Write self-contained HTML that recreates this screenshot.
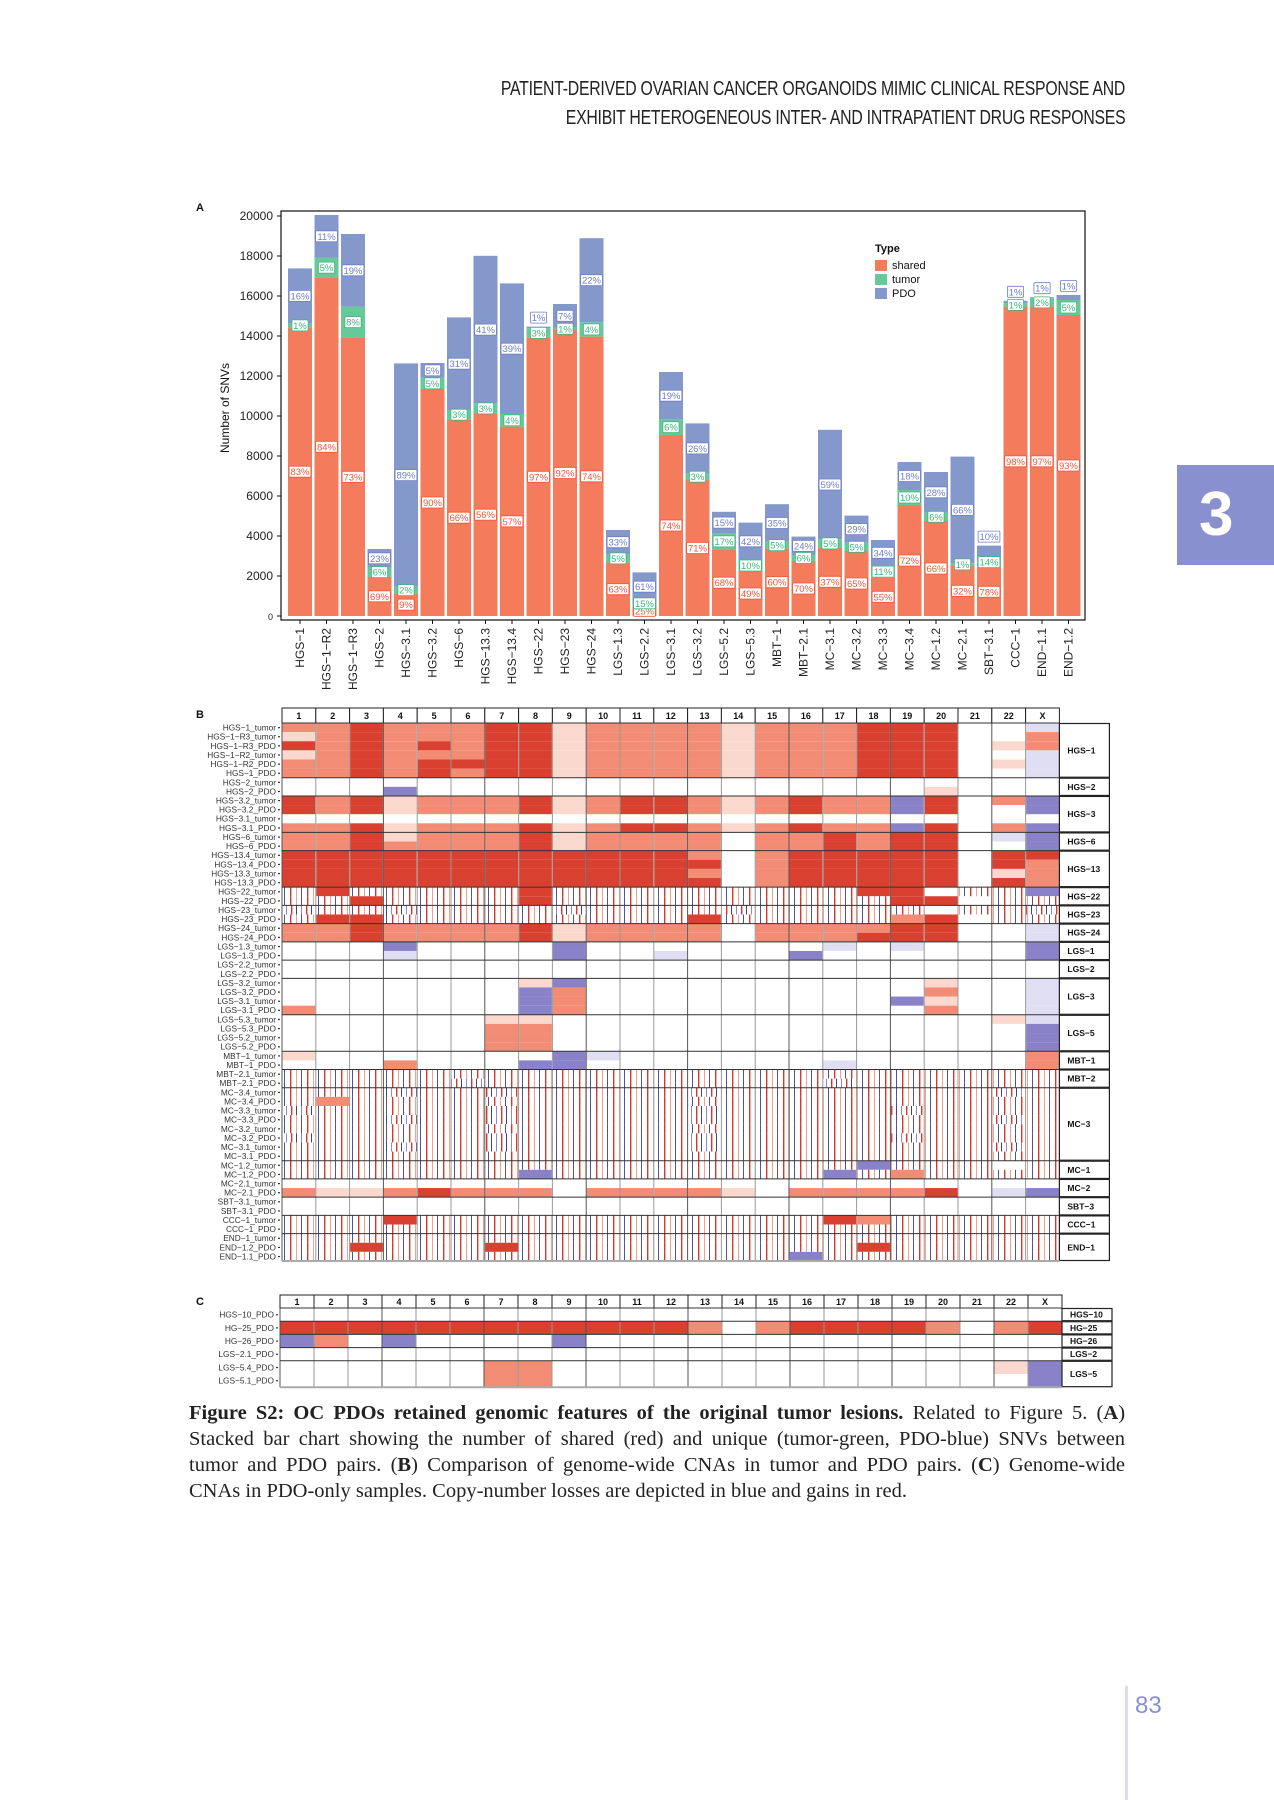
<!DOCTYPE html>
<html><head><meta charset="utf-8">
<style>
html,body{margin:0;padding:0;background:#fff;}
#page{position:relative;width:1274px;height:1800px;overflow:hidden;background:#fff;font-family:"Liberation Sans",sans-serif;}
.hdr{position:absolute;right:149px;font-family:"Liberation Sans Narrow","Liberation Sans",sans-serif;font-size:20px;color:#222;letter-spacing:-0.3px;text-align:right;white-space:nowrap;transform:scaleX(0.79);transform-origin:right center;}
.cap{position:absolute;left:189px;width:936px;font-family:"Liberation Serif",serif;font-size:20.5px;color:#222;line-height:26px;}
.cap div{text-align:justify;text-align-last:justify;white-space:nowrap;}
.cap div.last{text-align-last:left;}
</style></head>
<body>
<div id="page">
<div class="hdr" style="top:78px">PATIENT-DERIVED OVARIAN CANCER ORGANOIDS MIMIC CLINICAL RESPONSE AND</div>
<div class="hdr" style="top:107px">EXHIBIT HETEROGENEOUS INTER- AND INTRAPATIENT DRUG RESPONSES</div>
<div style="position:absolute;left:1177px;top:465px;width:97px;height:100px;background:#8890cf;color:#fff;font-family:'Liberation Sans Narrow','Liberation Sans',sans-serif;font-weight:bold;font-size:62px;line-height:100px;text-indent:22px;">3</div>
<div style="position:absolute;left:1125px;top:1686px;width:3px;height:114px;background:#dcdcf2;"></div>
<div style="position:absolute;left:1135px;top:1692px;font-family:'Liberation Sans Narrow','Liberation Sans',sans-serif;font-size:24px;color:#8890cf;">83</div>
<svg id="chart" width="1274" height="1800" style="position:absolute;left:0;top:0" xmlns="http://www.w3.org/2000/svg">
<defs>
<pattern id="pS" width="17" height="9" patternUnits="userSpaceOnUse"><rect width="17" height="9" fill="#fff"/><rect x="1" width="1.4" height="9" fill="#d7372a"/><rect x="7" width="1" height="9" fill="#f4a08e"/><rect x="12" width="0.9" height="9" fill="#3a3f8f"/></pattern>
<pattern id="pT" width="15" height="9" patternUnits="userSpaceOnUse"><rect width="15" height="9" fill="#fff"/><rect x="1" width="1" height="9" fill="#8f88cc"/><rect x="6" width="1.4" height="9" fill="#d7372a"/><rect x="11" width="0.9" height="9" fill="#27307e"/></pattern>
</defs>
<g id="panelA"></g>
<g id="panelB"></g>
<g id="panelC"></g>
</svg>
<div class="cap" style="top:1400px">
<div><b>Figure S2: OC PDOs retained genomic features of the original tumor lesions.</b> Related to Figure 5. (<b>A</b>)</div>
<div>Stacked bar chart showing the number of shared (red) and unique (tumor-green, PDO-blue) SNVs between</div>
<div>tumor and PDO pairs. (<b>B</b>) Comparison of genome-wide CNAs in tumor and PDO pairs. (<b>C</b>) Genome-wide</div>
<div class="last">CNAs in PDO-only samples. Copy-number losses are depicted in blue and gains in red.</div>
</div>
</div>
<script>
// ---------- Panel A data ----------
const samples = ["HGS-1","HGS-1-R2","HGS-1-R3","HGS-2","HGS-3.1","HGS-3.2","HGS-6","HGS-13.3","HGS-13.4","HGS-22","HGS-23","HGS-24","LGS-1.3","LGS-2.2","LGS-3.1","LGS-3.2","LGS-5.2","LGS-5.3","MBT-1","MBT-2.1","MC-3.1","MC-3.2","MC-3.3","MC-3.4","MC-1.2","MC-2.1","SBT-3.1","CCC-1","END-1.1","END-1.2"];
const sharedCount = [14430,16920,13920,1970,1130,11350,9830,10130,9470,13920,14300,13970,2680,520,9050,6800,3330,2250,3380,2750,3420,3250,1920,5550,4750,2520,2420,15470,15470,15050];
const tumorCount = [200,1000,1550,450,330,570,470,500,630,470,120,720,400,230,780,330,800,550,330,300,420,420,600,750,420,120,550,170,420,750];
const pdoCount = [2750,2130,3630,930,11170,730,4630,7380,6530,80,1180,4200,1220,1430,2370,2500,1080,1870,1880,920,5470,1350,1280,1400,2030,5330,550,120,50,250];
const sharedPct = [83,84,73,69,9,90,66,56,57,97,92,74,63,25,74,71,68,49,60,70,37,65,55,72,66,32,78,98,97,93];
const tumorPct = [1,5,8,6,2,5,3,3,4,3,1,4,5,15,6,3,17,10,5,6,5,5,11,10,6,1,14,1,2,5];
const pdoPct = [16,11,19,23,89,5,31,41,39,1,7,22,33,61,19,26,15,42,35,24,59,29,34,18,28,66,10,1,1,1];
const yTicks = [0,2000,4000,6000,8000,10000,12000,14000,16000,18000,20000];
const legendItems = ["shared","tumor","PDO"];

// ---------- Panel B data ----------
const chroms = ["1","2","3","4","5","6","7","8","9","10","11","12","13","14","15","16","17","18","19","20","21","22","X"];
const rowNames = ["HGS-1_tumor","HGS-1-R3_tumor","HGS-1-R3_PDO","HGS-1-R2_tumor","HGS-1-R2_PDO","HGS-1_PDO","HGS-2_tumor","HGS-2_PDO","HGS-3.2_tumor","HGS-3.2_PDO","HGS-3.1_tumor","HGS-3.1_PDO","HGS-6_tumor","HGS-6_PDO","HGS-13.4_tumor","HGS-13.4_PDO","HGS-13.3_tumor","HGS-13.3_PDO","HGS-22_tumor","HGS-22_PDO","HGS-23_tumor","HGS-23_PDO","HGS-24_tumor","HGS-24_PDO","LGS-1.3_tumor","LGS-1.3_PDO","LGS-2.2_tumor","LGS-2.2_PDO","LGS-3.2_tumor","LGS-3.2_PDO","LGS-3.1_tumor","LGS-3.1_PDO","LGS-5.3_tumor","LGS-5.3_PDO","LGS-5.2_tumor","LGS-5.2_PDO","MBT-1_tumor","MBT-1_PDO","MBT-2.1_tumor","MBT-2.1_PDO","MC-3.4_tumor","MC-3.4_PDO","MC-3.3_tumor","MC-3.3_PDO","MC-3.2_tumor","MC-3.2_PDO","MC-3.1_tumor","MC-3.1_PDO","MC-1.2_tumor","MC-1.2_PDO","MC-2.1_tumor","MC-2.1_PDO","SBT-3.1_tumor","SBT-3.1_PDO","CCC-1_tumor","CCC-1_PDO","END-1_tumor","END-1.2_PDO","END-1.1_PDO"];
const groupNames = ["HGS-1","HGS-2","HGS-3","HGS-6","HGS-13","HGS-22","HGS-23","HGS-24","LGS-1","LGS-2","LGS-3","LGS-5","MBT-1","MBT-2","MC-3","MC-1","MC-2","SBT-3","CCC-1","END-1"];
const groupSizes = [6,2,4,2,4,2,2,2,2,2,4,4,2,2,8,2,2,2,2,3];
const rowStates = [
"rrRrrrRRprrrrprrrRRR..b","prRrrrRRprrrrprrrRRR..r","RrRrRrRRprrrrprrrRRR.pr","prRrrrRRprrrrprrrRRR..b","rrRrRRRRprrrrprrrRRR.pb","rrRrRrRRprrrrprrrRRR..b",
".......................","...B...............p...",
"RrRprrrRprRRrprRrrBR.rB","RrRprrrRprRRrprRrrBR..B",".......................","rrRprrrRprRRrprRrrBR.rB",
"rrRprrrRprrrr.rrRrRR.bB","rrRrrrrRprrrr.rrRrRR..B",
"RRRRRRRRRRRRr.rRRRRR.RR","RRRRRRRRRRRRR.rRRRRR.Rr","RRRRRRRRRRRRr.rRRRRR.pr","RRRRRRRRRRRRR.rRRRRR.Rr",
"sRsssssRsssssssssRR.ssB","ssRssssRssssssssssRR.ss",
"tsstsssstsssstsssss.sst","sRRsssssssssRsssssrR.ss",
"rrRrrrrRprrrr.rrrrRR..b","rrRrrrrRprrrr.rrrRRR..b",
"...B....B.......b.b...B","...b....B..b...B......B",
".......................",".......................",
".......pB..........p..b",".......Br..........r..b",".......Br.........Bp..b","r......Br..........r..b",
"......pp.............pb","......rr..............B","......rr..............B","......rr..............B",
"p.......Bb............r","...r...BB.......b.....r",
"sssssssssssssssssssssss","ssssstsssssssssstssssss",
"ssstsstssssstssssssssts","srsssssssssssssssssssss","tssssstssssstssssstssss","ssstsstssssstssssssssts","sssssssssssssssssssssss","tssssstssssstssssstssss","ssstsstssssstssssssssts","sssssssssssssssssssssss",
"sssssssssssssssssBsss.s","sssssssBssssssssBsrssss",
".......................","rpprRrrr.rrrrp.rrrrR.bB",
".......................",".......................",
"sssRssssssssssssRrsssss","sssssssssssssssssssssss",
"sssssssssssssssssssssss","ssRsssRssssssssssRsssss","sssssssssssssssBsssssss"
];

// ---------- Panel C data ----------
const cRowNames = ["HGS-10_PDO","HG-25_PDO","HG-26_PDO","LGS-2.1_PDO","LGS-5.4_PDO","LGS-5.1_PDO"];
const cGroupNames = ["HGS-10","HG-25","HG-26","LGS-2","LGS-5"];
const cGroupSizes = [1,1,1,1,2];
const cRowStates = [".......................","RRRRRRRRRRRRr.rRRRRr.rR","Br.B....B..............",".......................","......rr.............pB","......rr..............B"];

const NS = "http://www.w3.org/2000/svg";
function mk(tag, attrs, parent){const e=document.createElementNS(NS,tag);for(const k in attrs)e.setAttribute(k,attrs[k]);parent.appendChild(e);return e;}
const stateFill = {".":"#ffffff","p":"#fbd8ce","r":"#f38c75","R":"#d9402f","b":"#e0def2","B":"#8a82c9","s":"url(#pS)","t":"url(#pT)"};

// ---------- Panel A ----------
(function(){
  const g = document.getElementById('panelA');
  const x0 = 300, pitch = 26.5, bw = 24;
  const yZero = 616, pxPer = 400/20000;
  const X = i => x0 + i*pitch;
  const Y = v => yZero - v*pxPer;
  const cols = {shared:"#f47b5b", tumor:"#66c99a", PDO:"#8498cc"};
  let t = mk('text',{x:196,y:211,'font-size':11,'font-weight':'bold',fill:'#111'},g); t.textContent='A';
   
  const frame = mk('rect',{x:281,y:211,width:804,height:409,fill:'none',stroke:'#111','stroke-width':1.2},g);
   
  yTicks.forEach(v=>{
    const tk = mk('line',{x1:277,x2:281,y1:Y(v),y2:Y(v),stroke:'#111'},g);
     
    const tl = mk('text',{x:273,y:Y(v)+4,'font-size':v===0?9:12,'text-anchor':'end',fill:'#222'},g);
    tl.textContent = v;
     
  });
  const yt = mk('text',{x:229,y:408,'font-size':12,'text-anchor':'middle',fill:'#111',transform:'rotate(-90 229 408)'},g);
  yt.textContent='Number of SNVs';
   
  function lbl(cx, cy, txt, col){
    const w = txt.length*5.6+5;
    const r = mk('rect',{x:cx-w/2,y:cy-5.5,width:w,height:11,fill:'#fff',stroke:col,'stroke-width':0.8,rx:1},g);
     
    const tt = mk('text',{x:cx,y:cy+3.5,'font-size':9.5,'text-anchor':'middle',fill:col},g);
    tt.textContent = txt;
     
  }
  samples.forEach((s,i)=>{
    const cx = X(i), lx = cx - bw/2;
    const a = sharedCount[i], b = a + tumorCount[i], c = b + pdoCount[i];
    const r1 = mk('rect',{x:lx,y:Y(a),width:bw,height:Y(0)-Y(a),fill:cols.shared},g);
     
    const r2 = mk('rect',{x:lx,y:Y(b),width:bw,height:Y(a)-Y(b),fill:cols.tumor},g);
     
    const r3 = mk('rect',{x:lx,y:Y(c),width:bw,height:Y(b)-Y(c),fill:cols.PDO},g);
     
    const xt = mk('line',{x1:cx,x2:cx,y1:620,y2:624,stroke:'#111'},g);
     
    const xl = mk('text',{x:cx+4,y:628,'font-size':12,'text-anchor':'end',fill:'#222',transform:`rotate(-90 ${cx+4} 628)`},g);
    xl.textContent = s.replace(/-/g,'\u2212');
     
    lbl(cx, (Y(0)+Y(a))/2, sharedPct[i]+'%', '#f0573a');
    lbl(cx, (Y(a)+Y(b))/2, tumorPct[i]+'%', '#3fb37c');
    const ph = Y(b)-Y(c);
    lbl(cx, ph<14 ? Y(c)-9 : (Y(b)+Y(c))/2, pdoPct[i]+'%', '#6f7fc4');
  });
  const lt = mk('text',{x:875,y:252,'font-size':11,'font-weight':'bold',fill:'#111'},g);
  lt.textContent='Type';
   
  legendItems.forEach((k,j)=>{
    const sq = mk('rect',{x:875,y:260+j*14,width:12,height:11,fill:cols[k]},g);
     
    const tx = mk('text',{x:892,y:269+j*14,'font-size':11,fill:'#111'},g);
    tx.textContent = k;
     
  });
})();

// ---------- heatmap builder ----------
function heat(gid, letter, left, top, hdrH, colW, rowH, names, states, gNames, gSizes, labelFont){
  const g = document.getElementById(gid);
  const dataTop = top + hdrH;
  const CX = j => left + j*colW;
  const RY = i => dataTop + i*rowH;
  const t = mk('text',{x:196,y:top+10,'font-size':11,'font-weight':'bold',fill:'#111'},g);
  t.textContent = letter;
   
  chroms.forEach((c,j)=>{
    const hb = mk('rect',{x:CX(j),y:top,width:colW,height:hdrH,fill:'#fff',stroke:'#222','stroke-width':1},g);
     
    const ht = mk('text',{x:CX(j)+colW/2,y:top+hdrH/2+3.5,'font-size':9,'font-weight':'bold','text-anchor':'middle',fill:'#111'},g);
    ht.textContent = c;
     
  });
  states.forEach((st,i)=>{
    for(let j=0;j<chroms.length;j++){
      const ch = st[j] || '.';
      if(ch==='.') continue;
      const cell = mk('rect',{x:CX(j)+0.5,y:RY(i),width:colW-1,height:rowH,fill:stateFill[ch]},g);
       
    }
    const rl = mk('text',{x:left-6,y:RY(i)+rowH/2+3,'font-size':labelFont,'text-anchor':'end',fill:'#333'},g);
    rl.textContent = names[i].replace(/-/g,'\u2212');
     
    const dot = mk('rect',{x:left-4,y:RY(i)+rowH/2-0.5,width:2,height:1.2,fill:'#333'},g);
     
  });
  const n = states.length, bottom = RY(n);
  for(let j=0;j<=chroms.length;j++){
    const vl = mk('line',{x1:CX(j),x2:CX(j),y1:dataTop,y2:bottom,stroke:(j%3===0?'#555':'#999'),'stroke-width':1},g);
     
  }
  let acc = 0;
  const right = CX(chroms.length);
  gNames.forEach((gn,k)=>{
    const y1 = RY(acc), y2 = RY(acc+gSizes[k]);
    const hl = mk('line',{x1:left,x2:right,y1:y1,y2:y1,stroke:'#333','stroke-width':1},g);
     
    const box = mk('rect',{x:right,y:y1+0.5,width:50,height:y2-y1-1,fill:'#fff',stroke:'#222','stroke-width':1.2},g);
     
    const gt = mk('text',{x:right+8,y:(y1+y2)/2+3,'font-size':8.5,'font-weight':'bold',fill:'#111'},g);
    gt.textContent = gn.replace(/-/g,'\u2212');
     
    acc += gSizes[k];
  });
  const bl = mk('line',{x1:left,x2:right,y1:bottom,y2:bottom,stroke:'#aaa','stroke-width':2},g);
   
}
heat('panelB','B',282,708,15,33.8,538/59,rowNames,rowStates,groupNames,groupSizes,8.3);
heat('panelC','C',280,1295,13,34,13.2,cRowNames,cRowStates,cGroupNames,cGroupSizes,8.3);
</script>
</body></html>
